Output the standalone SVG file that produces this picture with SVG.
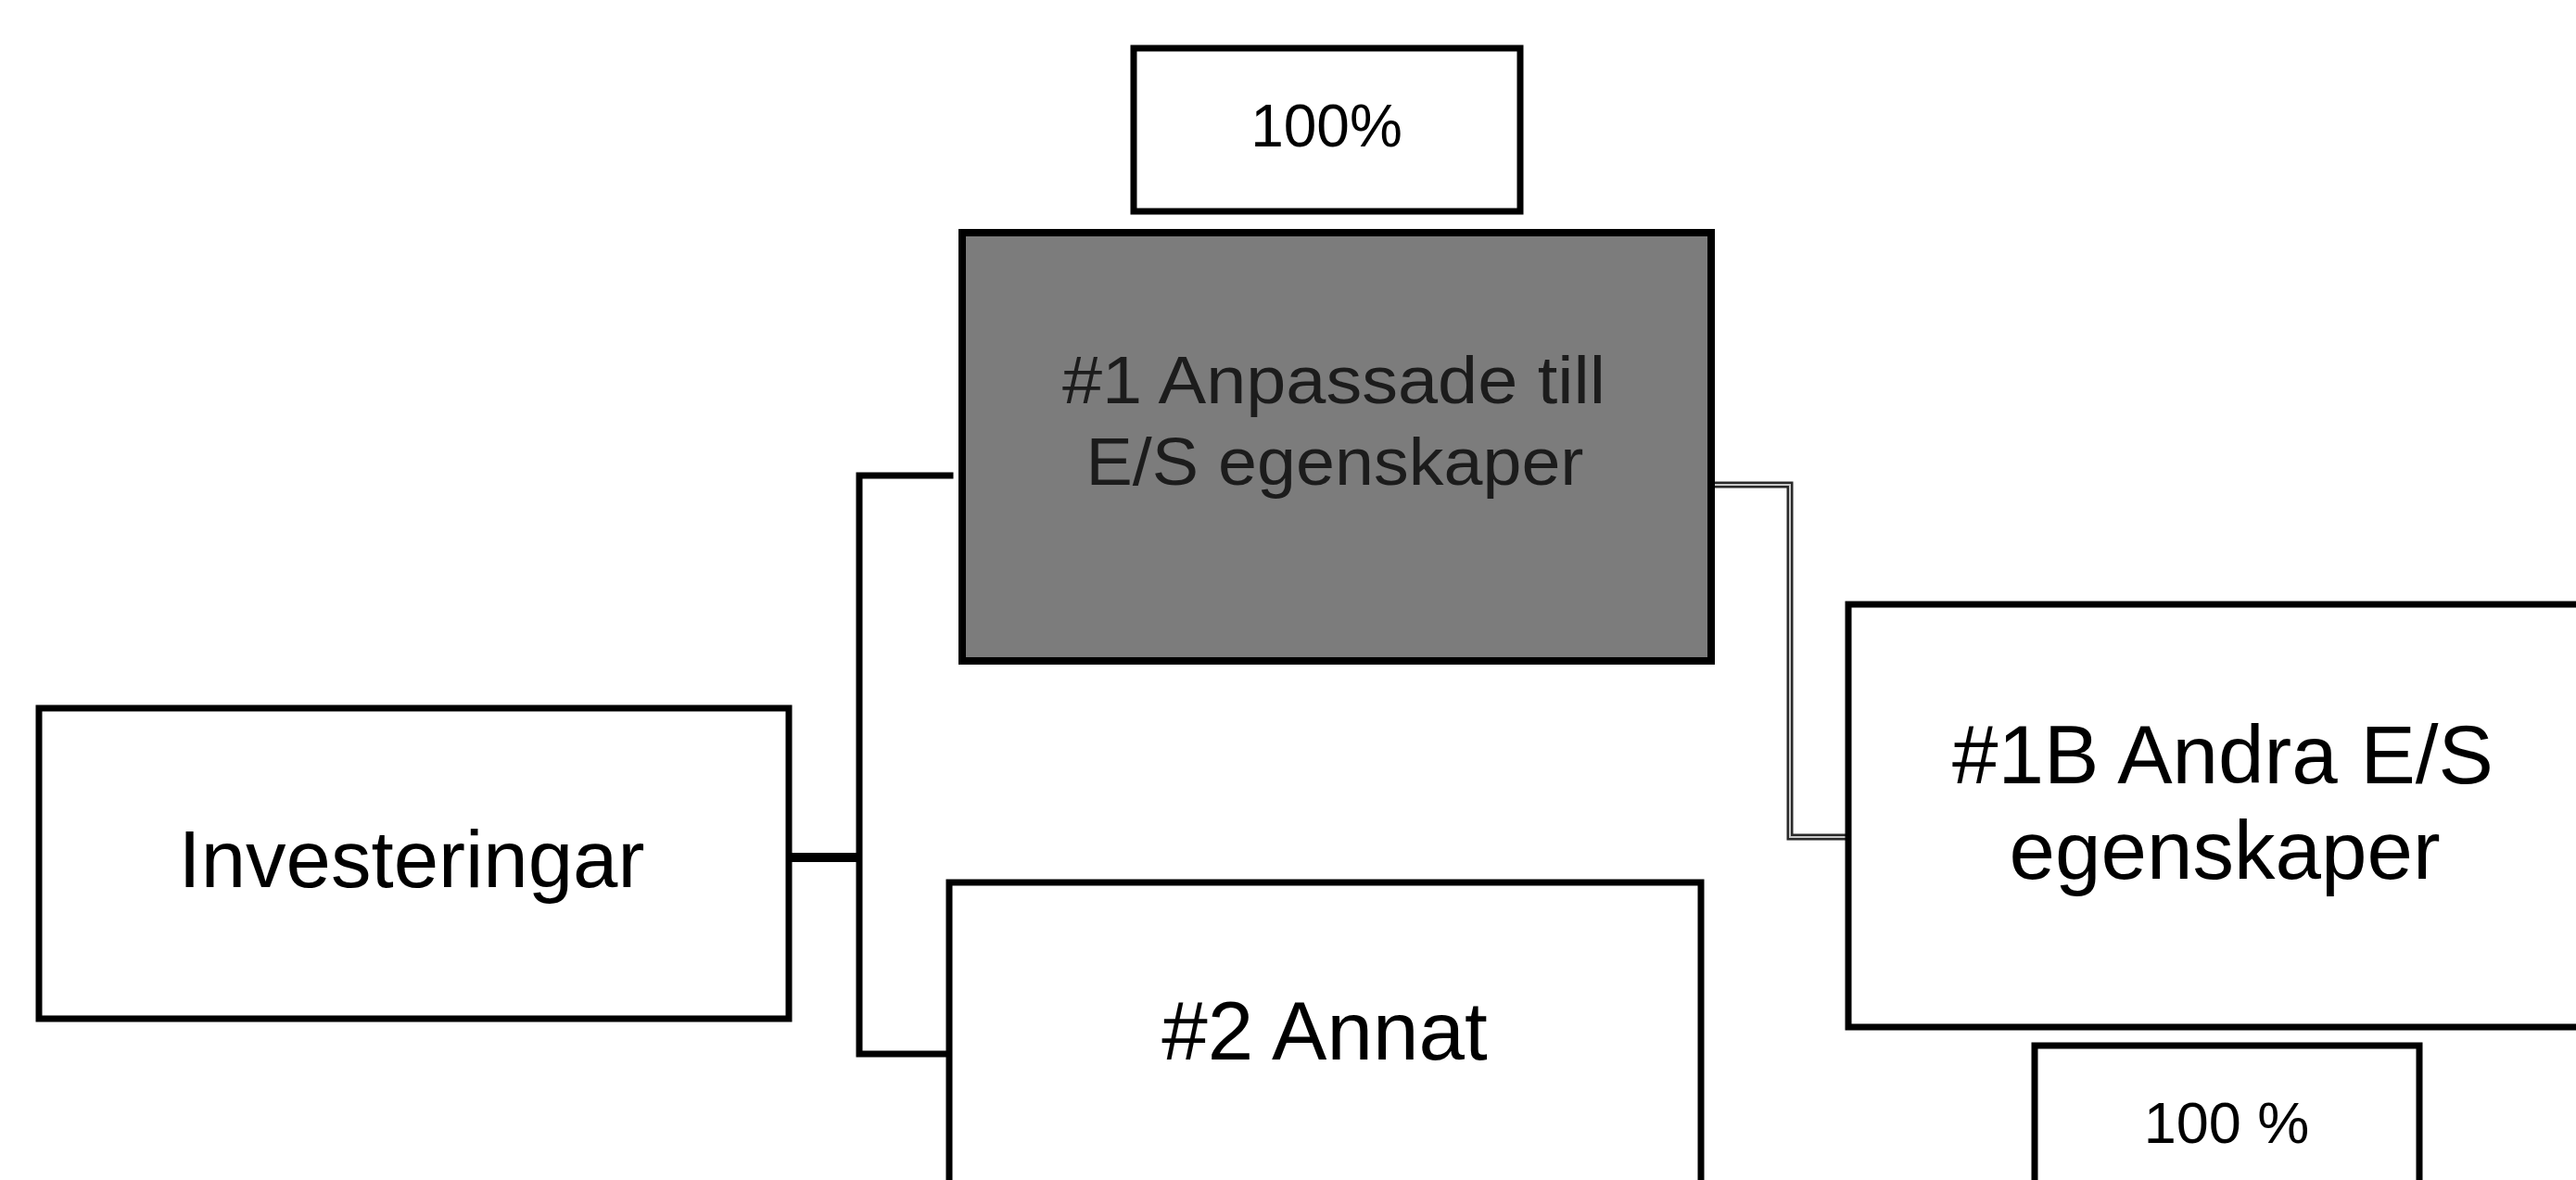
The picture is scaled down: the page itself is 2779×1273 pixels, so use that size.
<svg xmlns="http://www.w3.org/2000/svg" width="2779" height="1273" viewBox="0 0 2779 1273">
  <style>
    .box { fill: #ffffff; stroke: #000000; stroke-width: 7; }
    .dark { fill: #7c7c7c; stroke: #000000; stroke-width: 8; }
    .t { font-family: "Liberation Sans", Arial, sans-serif; fill: #000000; text-anchor: middle; }
    .tdark { font-family: "Liberation Sans", Arial, sans-serif; fill: #1c1c1c; text-anchor: middle; }
    .conn { fill: none; stroke: #000000; stroke-width: 7; stroke-linecap: square; stroke-linejoin: miter; }
    .connThick { fill: none; stroke: #000000; stroke-width: 10; }
    .connOuter { fill: none; stroke: #2a2a2a; stroke-width: 7; stroke-linejoin: miter; }
    .connInner { fill: none; stroke: #c8c8c8; stroke-width: 2; stroke-linejoin: miter; }
  </style>
  <rect x="0" y="0" width="2779" height="1273" fill="#ffffff"/>

  <g id="connectors">
    <path class="conn" d="M1025,513 L927,513 L927,1137 L1024,1137"/>
    <path class="connThick" d="M832,925 L930,925"/>
    <path class="connOuter" d="M1847,523 L1931,523 L1931,903 L1994,903"/>
    <path class="connInner" d="M1847,523 L1931,523 L1931,903 L1994,903"/>
  </g>

  <g id="node-top-percent">
    <rect class="box" x="1223" y="52" width="417" height="176"/>
    <text class="t" x="1431" y="158" font-size="64">100%</text>
  </g>

  <g id="node-investeringar">
    <rect class="box" x="42" y="764" width="809" height="335"/>
    <text class="t" x="444" y="957" font-size="87">Investeringar</text>
  </g>

  <g id="node-anpassade">
    <rect class="dark" x="1038" y="251" width="808" height="462"/>
    <text class="tdark" x="1439" y="435" font-size="72" textLength="586" lengthAdjust="spacingAndGlyphs">#1 Anpassade till</text>
    <text class="tdark" x="1440" y="523" font-size="72" textLength="537" lengthAdjust="spacingAndGlyphs">E/S egenskaper</text>
  </g>

  <g id="node-annat">
    <rect class="box" x="1024" y="952" width="811" height="400"/>
    <text class="t" x="1429" y="1143" font-size="89">#2 Annat</text>
  </g>

  <g id="node-andra">
    <rect class="box" x="1994" y="652" width="820" height="456"/>
    <text class="t" x="2398" y="845" font-size="89">#1B Andra E/S</text>
    <text class="t" x="2400" y="948" font-size="89">egenskaper</text>
  </g>

  <g id="node-bottom-percent">
    <rect class="box" x="2195" y="1128" width="415" height="200"/>
    <text class="t" x="2402" y="1233" font-size="63">100 %</text>
  </g>
</svg>
